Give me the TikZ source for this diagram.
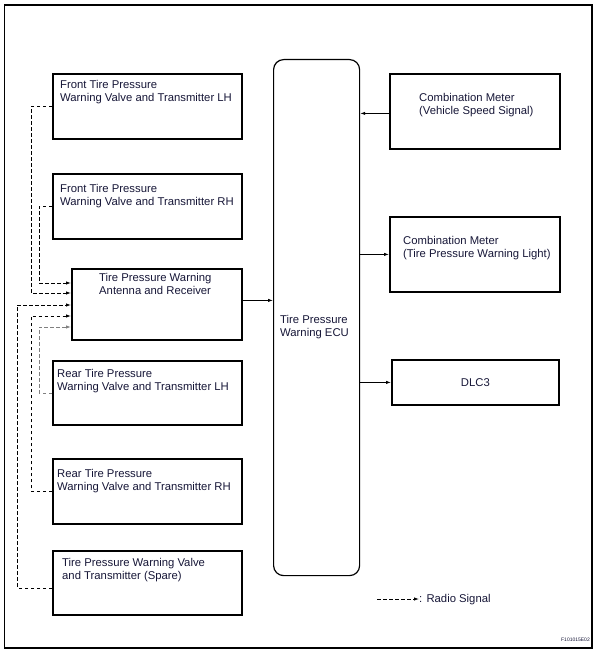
\documentclass[tikz,border=0pt]{standalone}
\usepackage{fontspec}
\setmainfont{Liberation Sans}
\usetikzlibrary{arrows.meta}
\definecolor{txtc}{RGB}{22,22,55}
\tikzset{blk/.style={draw, line width=1.8bp, inner sep=0pt, anchor=north west},
  lbl/.style={anchor=north west, inner sep=0pt, align=left, text=txtc},
  sig/.style={line width=0.8bp, -{Latex[length=5bp,width=3.4bp]}},
  radio/.style={sig, dashed, dash pattern=on 3.5bp off 2.5bp}}

\begin{document}
\begin{tikzpicture}[x=1bp, y=-1bp, font=\fontsize{11.3bp}{13bp}\selectfont]
    \useasboundingbox (0,0) rectangle (593,651);
    \draw[line width=1.2bp] (4.5,5) rectangle (592,648);
    % transmitters and antenna
    \node[blk, minimum width=189bp, minimum height=65bp] (flh) at (52,73) {};
    \node[blk, minimum width=189bp, minimum height=65bp] (frh) at (52,173) {};
    \node[blk, minimum width=170bp, minimum height=71bp] (ant) at (71,268) {};
    \node[blk, minimum width=189bp, minimum height=64bp] (rlh) at (52,360) {};
    \node[blk, minimum width=189bp, minimum height=65bp] (rrh) at (52,458) {};
    \node[blk, minimum width=189bp, minimum height=64bp] (spr) at (52,550) {};
    \node[lbl] (flh-t) at (60,80) {Front Tire Pressure\\Warning Valve and Transmitter LH};
    \node[lbl] (frh-t) at (60,184) {Front Tire Pressure\\Warning Valve and Transmitter RH};
    \node[lbl] (ant-t) at (99,273) {Tire Pressure Warning\\Antenna and Receiver};
    \node[lbl] (rlh-t) at (57,369) {Rear Tire Pressure\\Warning Valve and Transmitter LH};
    \node[lbl] (rrh-t) at (57,469) {Rear Tire Pressure\\Warning Valve and Transmitter RH};
    \node[lbl] (spr-t) at (62,558) {Tire Pressure Warning Valve\\and Transmitter (Spare)};
    % ecu
    \node[draw, line width=1.2bp, rounded corners=10bp, inner sep=0pt, anchor=north west,
      minimum width=86bp, minimum height=516bp] (ecu) at (273,59) {};
    \node[lbl] (ecu-t) at (280,315) {Tire Pressure\\Warning ECU};
    % meters and dlc
    \node[blk, minimum width=170bp, minimum height=75bp] (cms) at (389,73) {};
    \node[blk, minimum width=170bp, minimum height=75bp] (cml) at (389,216) {};
    \node[blk, minimum width=167bp, minimum height=45bp, text=txtc] (dlc) at (391,359) {DLC3};
    \node[lbl] (cms-t) at (419,93) {Combination Meter\\(Vehicle Speed Signal)};
    \node[lbl] (cml-t) at (403,236) {Combination Meter\\(Tire Pressure Warning Light)};
    % radio inputs on the antenna
    \coordinate (in1) at (71,283);
    \coordinate (in2) at (71,293);
    \coordinate (in3) at (71,305);
    \coordinate (in4) at (71,316);
    \coordinate (in5) at (71,327);
    \draw[radio] (flh.west) -- ++(-21,0) |- (in2);
    \draw[radio] (frh.west) -- ++(-13,0) |- (in1);
    \draw[radio] ([yshift=-5bp]spr.west) -- ++(-35,0) |- (in3);
    \draw[radio] (rrh.west) -- ++(-21,0) |- (in4);
    \draw[radio, draw=gray] (rlh.west) -- ++(-13,0) |- (in5);
    % wires
    \draw[sig] ([yshift=4bp]ant.east) -- ([yshift=4bp]ant.east -| ecu.west);
    \draw[sig] ([yshift=-2bp]cms.west) -- ([yshift=-2bp]cms.west -| ecu.east);
    \draw[sig] (cml.west -| ecu.east) -- (cml.west);
    \draw[sig] (dlc.west -| ecu.east) -- (dlc.west);
    % legend
    \node[anchor=west, inner sep=0pt, text=txtc] (leg) at (419,600) {: Radio Signal};
    \coordinate (leg-s) at (377,599);
    \draw[radio] (leg-s) -- (leg-s -| leg.west);
    \node[anchor=east, inner sep=0pt, text=txtc, font=\fontsize{5bp}{6bp}\selectfont] (fig) at (590,640) {F101015E02};
\end{tikzpicture}
\end{document}
